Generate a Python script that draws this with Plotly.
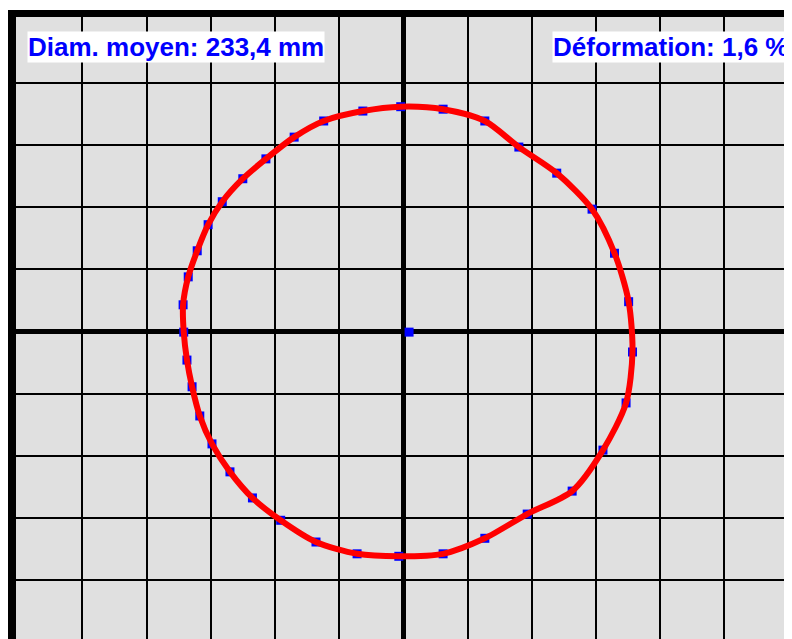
import plotly.graph_objects as go

# Measured contour points (grid units, clockwise from top)
pts_x = [-0.04, 0.62, 1.27, 1.80, 2.39, 2.94, 3.29, 3.51, 3.57, 3.47, 3.11, 2.63,
         1.93, 1.27, 0.62, -0.07, -0.72, -1.36, -1.91, -2.35, -2.70, -2.98, -3.17, -3.29,
         -3.37, -3.42, -3.43, -3.35, -3.21, -3.04, -2.82, -2.50, -2.14, -1.70, -1.24, -0.63]
pts_y = [3.62, 3.58, 3.39, 2.97, 2.55, 1.97, 1.26, 0.48, -0.33, -1.15, -1.91, -2.57,
         -2.94, -3.33, -3.58, -3.62, -3.58, -3.39, -3.04, -2.68, -2.26, -1.81, -1.36, -0.89,
         -0.46, -0.01, 0.43, 0.88, 1.30, 1.72, 2.09, 2.46, 2.78, 3.13, 3.39, 3.55]
center_x = [0.09]
center_y = [-0.01]

label_diam = "Diam. moyen: 233,4 mm"
label_def = "Déformation: 1,6 %"

O = 8                    # page body offset
W, H = 792, 639
L, T = 16 - O, 17 - O    # plot area origin in figure coords
pw, ph = W - L, H - T

# pixel geometry in screenshot coords
cx, cy, sx, sy = 403.3, 331.5, 64.2, 62.1

fig = go.Figure()
fig.add_trace(go.Scatter(x=pts_x, y=pts_y, mode="markers",
                         marker=dict(symbol="square", size=9, color="#0000ff"),
                         hoverinfo="skip"))
fig.add_trace(go.Scatter(x=pts_x + pts_x[:1], y=pts_y + pts_y[:1], mode="lines",
                         line=dict(color="#ff0000", width=6, shape="spline", smoothing=0.8),
                         hoverinfo="skip"))
fig.add_trace(go.Scatter(x=center_x, y=center_y, mode="markers",
                         marker=dict(symbol="square", size=9, color="#0000ff"),
                         hoverinfo="skip"))

fig.update_layout(
    width=W, height=H,
    margin=dict(l=L, t=T, r=0, b=0, pad=0),
    paper_bgcolor="white",
    plot_bgcolor="#e0e0e0",
    showlegend=False,
    xaxis=dict(range=[(L + O - cx) / sx, (W + O - cx) / sx],
               tickmode="array", tickvals=list(range(-5, 7)),
               showticklabels=False, ticks="", showgrid=True,
               gridcolor="black", gridwidth=1.6,
               zeroline=True, zerolinecolor="black", zerolinewidth=5,
               showline=False, fixedrange=True),
    yaxis=dict(range=[(cy - (H + O)) / sy, (cy - (T + O)) / sy],
               tickmode="array", tickvals=list(range(-4, 5)),
               showticklabels=False, ticks="", showgrid=True,
               gridcolor="black", gridwidth=1.6,
               zeroline=True, zerolinecolor="black", zerolinewidth=5,
               showline=False, fixedrange=True),
    shapes=[
        dict(type="rect", xref="paper", yref="paper",
             x0=-L / pw, x1=0, y0=0, y1=1 + (T - 2) / ph,
             fillcolor="black", line=dict(width=0), layer="above"),
        dict(type="rect", xref="paper", yref="paper",
             x0=-L / pw, x1=1.02, y0=1, y1=1 + (T - 2) / ph,
             fillcolor="black", line=dict(width=0), layer="above"),
    ],
    annotations=[
        dict(text="<b>" + label_diam + "</b>", xref="paper", yref="paper",
             x=(27 - O - L) / pw, y=1 - (31 - O - T) / ph, xanchor="left", yanchor="top",
             showarrow=False, bgcolor="white", borderpad=0,
             font=dict(family="Liberation Sans, Arial", size=26, color="#0000ff")),
        dict(text="<b>" + label_def + "</b>", xref="paper", yref="paper",
             x=(552 - O - L) / pw, y=1 - (31 - O - T) / ph, xanchor="left", yanchor="top",
             showarrow=False, bgcolor="white", borderpad=0,
             font=dict(family="Liberation Sans, Arial", size=26, color="#0000ff")),
    ],
)

fig.write_html("out.html")
